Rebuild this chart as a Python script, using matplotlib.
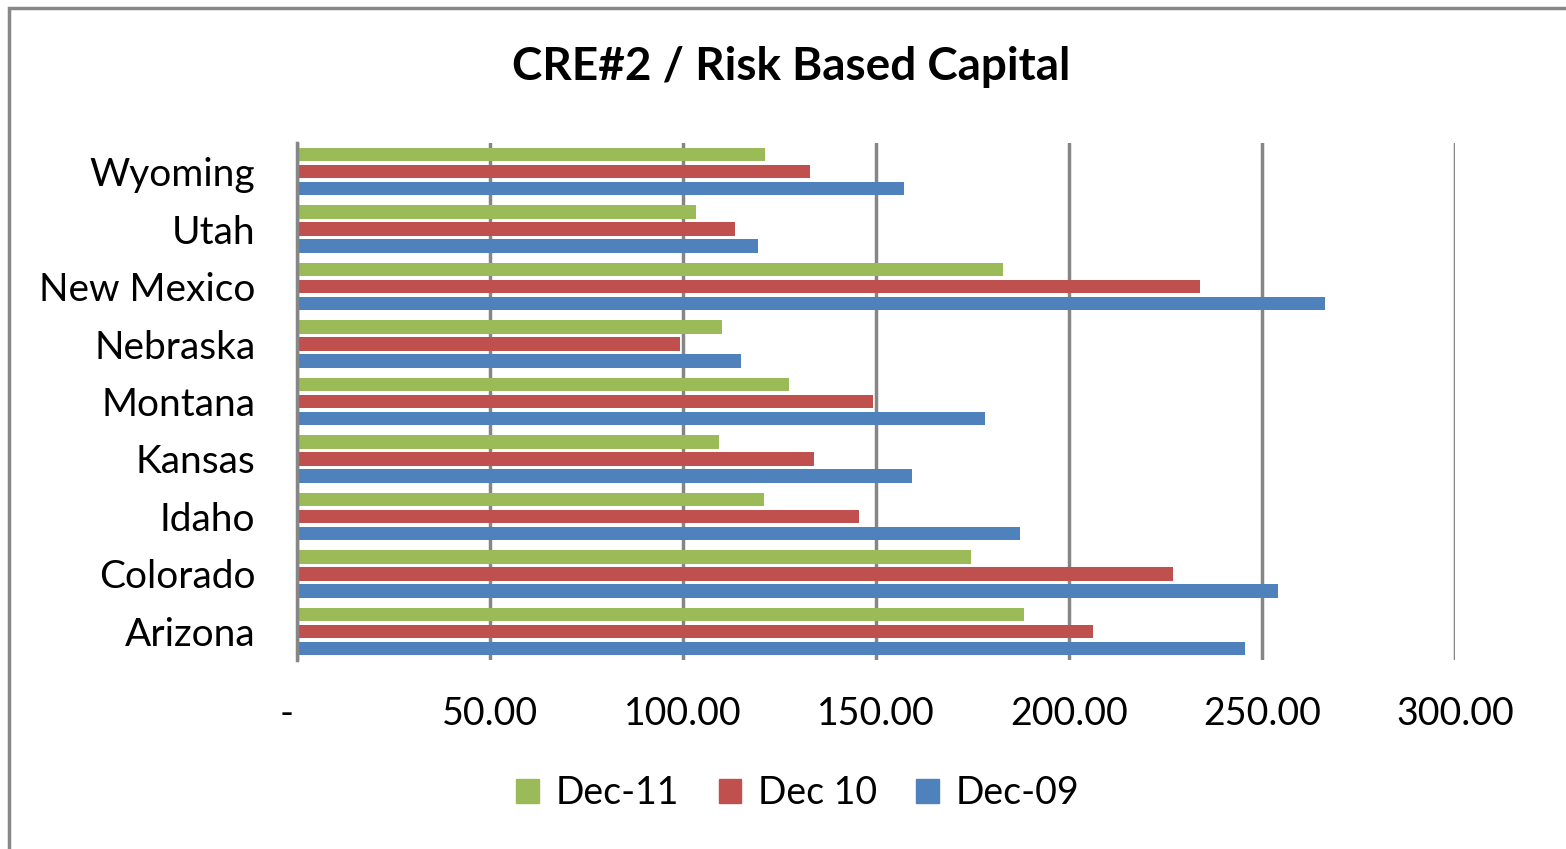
import matplotlib
matplotlib.use("Agg")
import matplotlib.pyplot as plt
from matplotlib.patches import Rectangle, Patch
import numpy as np

plt.rcParams['font.family'] = ['Lato', 'DejaVu Sans']

states = ["Arizona", "Colorado", "Idaho", "Kansas", "Montana", "Nebraska", "New Mexico", "Utah", "Wyoming"]
dec11 = [188.3, 174.6, 121.0, 109.3, 127.5, 110.1, 182.9, 103.4, 121.2]
dec10 = [206.2, 226.9, 145.6, 133.9, 149.2, 99.2, 233.9, 113.5, 132.9]
dec09 = [245.6, 254.1, 187.3, 159.3, 178.2, 115.0, 266.3, 119.4, 157.3]
series_names = ["Dec-11", "Dec 10", "Dec-09"]
xticks = [0, 50, 100, 150, 200, 250, 300]
xticklabels = ["-  ", "50.00", "100.00", "150.00", "200.00", "250.00", "300.00"]

colors = {"Dec-11": "#9BBB59", "Dec 10": "#C0504D", "Dec-09": "#4F81BD"}

W, H = 1566, 849
fig = plt.figure(figsize=(W/100, H/100), dpi=100)
ax = fig.add_axes([297/W, 1-660/H, (1455-297)/W, (660-143)/H])

y = np.arange(len(states))
pitch = 0.296
bh = 0.235
ax.barh(y + pitch, dec11, height=bh, color=colors["Dec-11"], zorder=3)
ax.barh(y, dec10, height=bh, color=colors["Dec 10"], zorder=3)
ax.barh(y - pitch, dec09, height=bh, color=colors["Dec-09"], zorder=3)

ax.set_xlim(0, 300)
ax.set_ylim(-0.5, len(states) - 0.5)
ax.set_yticks(y)
ax.set_yticklabels(states, fontsize=28)
ax.set_xticks(xticks)
ax.set_xticklabels(xticklabels, fontsize=27)
ax.tick_params(axis='both', length=0)
ax.tick_params(axis='y', pad=30)
ax.tick_params(axis='x', pad=26)
ax.grid(axis='x', color='#868686', linewidth=2.5, zorder=0)
for s in ['top', 'right', 'bottom']:
    ax.spines[s].set_visible(False)
ax.spines['left'].set_color('#868686')
ax.spines['left'].set_linewidth(2.5)
ax.spines['left'].set_zorder(4)

fig.text(791/W, 1-67/H, "CRE#2 / Risk Based Capital", ha='center', va='center',
         fontsize=33, fontweight='bold')

handles = [Patch(color=colors[n]) for n in series_names]
fig.legend(handles, series_names, loc='center', bbox_to_anchor=(798/W, 1-793/H),
           ncol=3, frameon=False, fontsize=27, handlelength=0.6, handleheight=0.6,
           handletextpad=0.45, columnspacing=1.05)

fig.patches.append(Rectangle((8.5/W, -0.1), 1.2, 1 - 7.5/H + 0.1, transform=fig.transFigure,
                             fill=False, edgecolor='#888888', linewidth=2.5))

fig.savefig("out.png", dpi=100)
